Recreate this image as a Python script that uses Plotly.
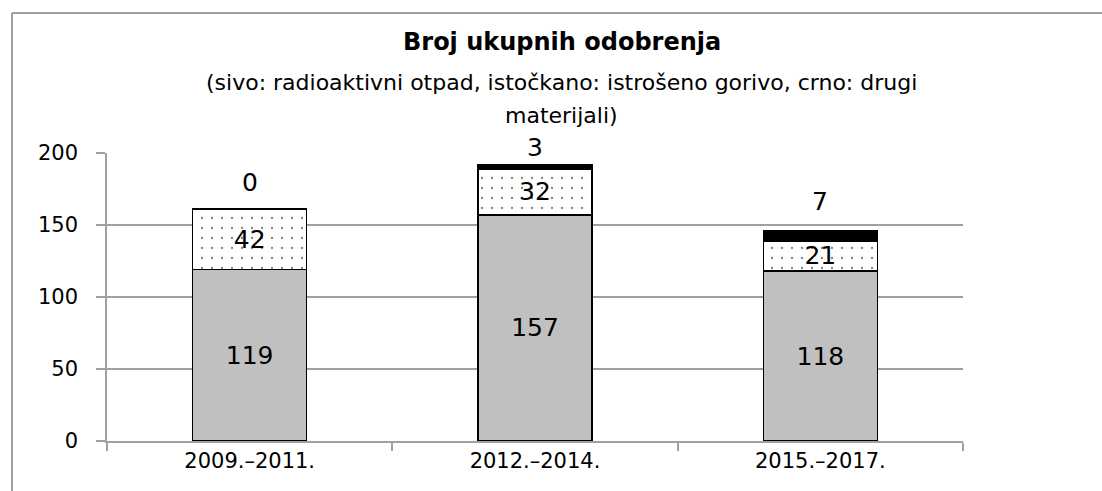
import plotly.graph_objects as go

categories = ["2009.–2011.", "2012.–2014.", "2015.–2017."]
radioaktivni = [119, 157, 118]
gorivo = [42, 32, 21]
drugi = [0, 3, 7]
y_ticks = [0, 50, 100, 150, 200]

FONT = "DejaVu Sans, sans-serif"
GRID = "#a0a0a0"

fig = go.Figure()
fig.add_trace(go.Bar(
    x=categories, y=radioaktivni, name="radioaktivni otpad",
    marker=dict(color="#c0c0c0", line=dict(color="black", width=1.5)),
    text=[str(v) for v in radioaktivni], textposition="inside",
    insidetextanchor="middle", textangle=0, constraintext="none",
    textfont=dict(size=25, color="black", family=FONT),
))
fig.add_trace(go.Bar(
    x=categories, y=gorivo, name="istrošeno gorivo",
    marker=dict(color="white", line=dict(color="black", width=1.5),
                pattern=dict(shape=".", fgcolor="black", bgcolor="white",
                             size=10, solidity=0.04)),
    text=[str(v) for v in gorivo], textposition="inside",
    insidetextanchor="middle", textangle=0, constraintext="none",
    textfont=dict(size=25, color="black", family=FONT),
))
fig.add_trace(go.Bar(
    x=categories, y=drugi, name="drugi materijali",
    marker=dict(color="black", line=dict(color="black", width=1.5)),
    textposition="none",
))

totals = [a + b + c for a, b, c in zip(radioaktivni, gorivo, drugi)]
shifts = [27, 17, 29]
for cat, tot, val, sh in zip(categories, totals, drugi, shifts):
    fig.add_annotation(x=cat, y=tot, text=str(val), showarrow=False,
                       yanchor="middle", yshift=sh,
                       font=dict(size=25, color="black", family=FONT))

# Title lines
fig.add_annotation(xref="paper", yref="paper", x=0.5315, y=(441 - 42) / 288,
                   text="<b>Broj ukupnih odobrenja</b>", showarrow=False,
                   yanchor="middle", font=dict(size=24, color="black", family=FONT))
fig.add_annotation(xref="paper", yref="paper", x=0.5315, y=(441 - 82) / 288,
                   text="(sivo: radioaktivni otpad, istočkano: istrošeno gorivo, crno: drugi",
                   showarrow=False, yanchor="middle",
                   font=dict(size=22, color="black", family=FONT))
fig.add_annotation(xref="paper", yref="paper", x=0.5315, y=(441 - 115) / 288,
                   text="materijali)", showarrow=False, yanchor="middle",
                   font=dict(size=22, color="black", family=FONT))

# Outer frame lines (top and left)
fig.add_shape(type="line", xref="paper", yref="paper",
              x0=(12 - 107) / 856, x1=(1102 - 107) / 856,
              y0=(441 - 13) / 288, y1=(441 - 13) / 288,
              line=dict(color=GRID, width=2))
fig.add_shape(type="line", xref="paper", yref="paper",
              x0=(12 - 107) / 856, x1=(12 - 107) / 856,
              y0=(441 - 13) / 288, y1=(441 - 495) / 288,
              line=dict(color=GRID, width=2))

fig.update_layout(
    barmode="stack", bargap=0.6, showlegend=False,
    width=1102, height=491,
    margin=dict(l=107, r=139, t=153, b=50),
    paper_bgcolor="white", plot_bgcolor="white",
    font=dict(family=FONT, color="black"),
)
fig.update_xaxes(
    showline=True, linecolor=GRID, linewidth=1.5,
    ticks="outside", tickson="boundaries", ticklen=8, tickcolor=GRID, tickwidth=1.5,
    tickfont=dict(size=21, color="black", family=FONT),
    showgrid=False,
)
fig.update_yaxes(
    range=[0, 200], tickvals=y_ticks, showgrid=True, gridcolor=GRID, gridwidth=1.5,
    showline=True, linecolor=GRID, linewidth=1.5,
    ticks="outside", ticklen=9, tickcolor=GRID, tickwidth=1.5,
    tickfont=dict(size=21, color="black", family=FONT),
    ticklabelstandoff=14, zeroline=False,
)

fig.write_html("out.html", config={"displayModeBar": False},
               post_script="document.body.style.margin='0';document.body.style.overflow='hidden';")
